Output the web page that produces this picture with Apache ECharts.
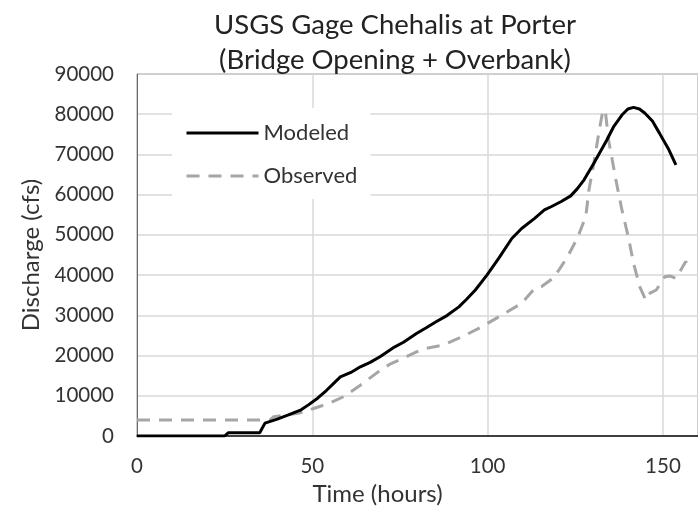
<!DOCTYPE html>
<html>
<head>
<meta charset="utf-8">
<script src="https://cdn.jsdelivr.net/npm/echarts@6/dist/echarts.min.js"></script>
<style>html,body{margin:0;padding:0;background:#fff;}#c{width:698px;height:514px;}</style>
</head>
<body>
<div id="c"></div>
<script>
const titleLines = ['USGS Gage Chehalis at Porter', '(Bridge Opening + Overbank)'];
const xName = 'Time (hours)';
const yName = 'Discharge (cfs)';
const seriesNames = ['Modeled', 'Observed'];
const modeledT = [0, 25, 26, 35, 36.5, 40, 43, 46.8, 49, 51.5, 54, 58, 61, 63.7, 66.5, 69.3, 73, 76, 79.7, 82.5, 85.3, 88.5, 91.8, 94, 96.5, 99.8, 103.1, 106.9, 109.7, 113.4, 116.2, 118.1, 121, 123.7, 125.6, 127.5, 130.3, 134, 136, 138.3, 140, 141.6, 143.3, 144.8, 147, 149, 151.5, 153.7];
const modeledQ = [0, 0, 800, 800, 3200, 4200, 5200, 6500, 7800, 9400, 11300, 14700, 15800, 17200, 18300, 19700, 21900, 23300, 25500, 26900, 28400, 30000, 32100, 34000, 36300, 40000, 44100, 49100, 51600, 54100, 56200, 57000, 58300, 59700, 61500, 63700, 67800, 73600, 77000, 79800, 81300, 81700, 81300, 80300, 78300, 75300, 71500, 67400];
const observedT = [0, 38, 39, 43, 46.7, 50.6, 55, 59, 63.5, 68.4, 72, 75.9, 79.7, 82.5, 87.2, 92.8, 98.4, 104.1, 109.7, 113.4, 115.3, 118.6, 120.5, 122.8, 125.6, 128, 128.9, 130.3, 131.7, 132.9, 133.6, 134.5, 136.4, 138.3, 140.2, 141.6, 143.4, 145.1, 146.3, 148.1, 150.5, 152, 153.7, 155.1, 156.5, 158];
const observedQ = [4000, 4000, 4800, 5300, 5800, 6900, 8200, 9800, 12500, 15700, 17800, 19300, 20900, 21800, 22600, 24700, 27200, 30100, 33000, 36700, 37100, 39200, 41500, 44600, 49200, 54600, 61200, 67900, 75300, 81100, 80500, 73600, 64500, 56200, 49200, 43000, 37100, 33800, 35500, 36300, 39600, 39800, 39200, 41300, 43400, 41300];
const xTicks = [0, 50, 100, 150];

const FONT = 'Lato';
const pair = (a, b) => a.map((t, i) => [t, b[i]]);
const chart = echarts.init(document.getElementById('c'), null, {renderer: 'canvas'});
chart.setOption({
  animation: false,
  backgroundColor: '#fff',
  title: {
    text: titleLines.join('\n'),
    left: 390, top: 3, textAlign: 'center',
    textStyle: {fontFamily: FONT, fontSize: 27.5, fontWeight: 'normal', color: '#222', lineHeight: 35}
  },
  legend: {
    orient: 'vertical', left: 172, top: 108,
    backgroundColor: '#fff',
    padding: [14, 13, 12, 13],
    itemWidth: 72, itemHeight: 14, itemGap: 21,
    itemStyle: {opacity: 0},
    lineStyle: {width: 3},
    textStyle: {fontFamily: FONT, fontSize: 22, lineHeight: 22, color: '#333'},
    data: seriesNames
  },
  grid: {left: 137, top: 74, bottom: 78, right: -7.5, show: true, borderColor: '#6a6a6a', borderWidth: 1},
  xAxis: {
    type: 'value', min: 0, max: 160, interval: 50,
    name: xName, nameLocation: 'middle', nameGap: 46,
    nameTextStyle: {fontFamily: FONT, fontSize: 24, color: '#333', padding: [0, 80, 0, 0]},
    axisLine: {show: true, onZero: false, lineStyle: {color: '#111', width: 1.5}},
    axisTick: {show: false},
    axisLabel: {fontFamily: FONT, fontSize: 20.5, color: '#333', margin: 20,
      customValues: xTicks},
    splitLine: {show: true, lineStyle: {color: '#d9d9d9', width: 1.5}}
  },
  yAxis: {
    type: 'value', min: 0, max: 90000, interval: 10000,
    name: yName, nameLocation: 'middle', nameGap: 92,
    nameTextStyle: {fontFamily: FONT, fontSize: 24, color: '#333'},
    axisLine: {show: true, lineStyle: {color: '#6a6a6a', width: 1}},
    axisTick: {show: false},
    axisLabel: {fontFamily: FONT, fontSize: 20.5, color: '#333', margin: 23,
      formatter: v => String(v)},
    splitLine: {show: true, lineStyle: {color: '#d9d9d9', width: 1.5}}
  },
  series: [
    {name: seriesNames[0], type: 'line', data: pair(modeledT, modeledQ), symbol: 'none', smooth: false,
      itemStyle: {color: '#000'}, lineStyle: {color: '#000', width: 3}, z: 3},
    {name: seriesNames[1], type: 'line', data: pair(observedT, observedQ), symbol: 'none', smooth: false,
      itemStyle: {color: '#a6a6a6'}, lineStyle: {color: '#a6a6a6', width: 3, type: [13, 9]}, z: 2}
  ]
});
</script>
</body>
</html>
